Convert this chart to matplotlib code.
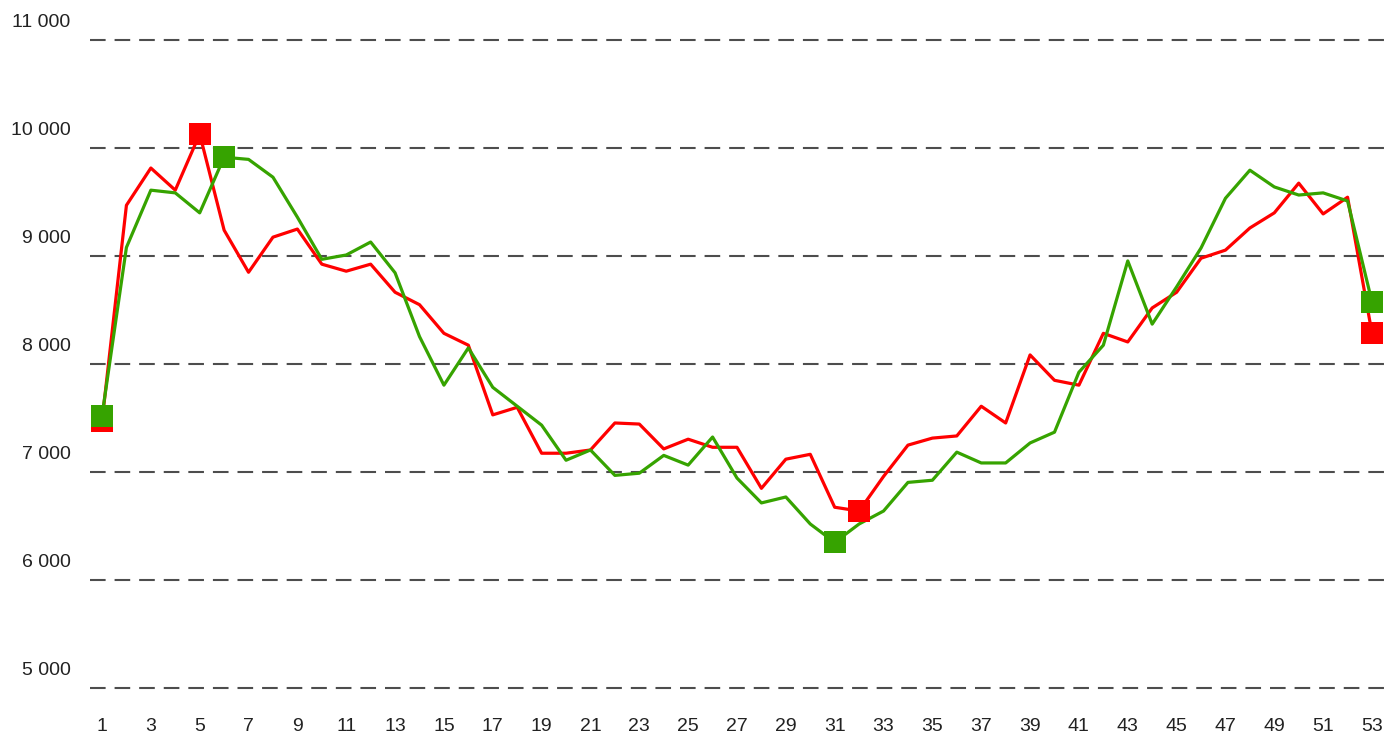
import matplotlib.pyplot as plt
import matplotlib.transforms as mtransforms
from matplotlib import font_manager
import numpy as np

# Week numbers and the two series
weeks = list(range(1, 54))
red_values = [7470, 9470, 9815, 9610, 10130, 9240, 8850, 9175, 9250, 8925,
              8860, 8925, 8665, 8550, 8285, 8175, 7530, 7600, 7175, 7175,
              7205, 7455, 7445, 7215, 7305, 7230, 7230, 6850, 7120, 7165,
              6675, 6640, 6960, 7250, 7315, 7335, 7610, 7455, 8085, 7850,
              7805, 8285, 8205, 8520, 8665, 8980, 9055, 9260, 9400, 9675,
              9390, 9545, 8285]
green_values = [7520, 9080, 9610, 9585, 9400, 9915, 9895, 9730, 9360, 8970,
                9010, 9130, 8845, 8255, 7805, 8150, 7785, 7610, 7435, 7110,
                7205, 6970, 6990, 7155, 7065, 7325, 6945, 6715, 6770, 6520,
                6350, 6520, 6640, 6905, 6925, 7185, 7085, 7085, 7270, 7370,
                7925, 8175, 8955, 8370, 8715, 9075, 9535, 9795, 9640, 9565,
                9585, 9510, 8575]
y_ticks = [5000, 6000, 7000, 8000, 9000, 10000, 11000]
x_ticks = list(range(1, 54, 2))

RED = '#ff0000'
GREEN = '#36a300'

# pick a narrow font if it exists
names = {f.name for f in font_manager.fontManager.ttflist}
family = ['Liberation Sans Narrow', 'DejaVu Sans'] if 'Liberation Sans Narrow' in names else ['Liberation Sans', 'DejaVu Sans']
plt.rcParams['font.family'] = family

fig = plt.figure(figsize=(13.91, 7.42), dpi=100, facecolor='white')
ax = fig.add_axes([90 / 1391, 1 - 699 / 742, 1 - 90 / 1391, (699 - 24) / 742])

for vals, color in [(red_values, RED), (green_values, GREEN)]:
    ax.plot(weeks, vals, color=color, linewidth=2.3, zorder=3)
    v = np.array(vals)
    idx = [0, int(v.argmax()), int(v.argmin()), len(v) - 1]
    ax.plot([weeks[i] for i in idx], [vals[i] for i in idx], 's', color=color,
            markersize=15.2, markeredgewidth=0, zorder=4)

ax.set_xlim(1 - 12 / 24.42, 53 + 19 / 24.42)
ax.set_ylim(4900, 11000 + 16 / 0.108)

# dashed horizontal grid
for y in y_ticks:
    ax.axhline(y, color='#4d4d4d', linewidth=1.5, linestyle=(0, (7.5, 4.3)), zorder=1)

ax.set_yticks(y_ticks)
ax.set_yticklabels([f'{v:,}'.replace(',', ' ') for v in y_ticks])
ax.set_xticks(x_ticks)
ax.set_xticklabels([str(w) for w in x_ticks])
ax.tick_params(axis='both', length=0, labelsize=14, colors='#222222')
ax.tick_params(axis='y', pad=14)
ax.tick_params(axis='x', pad=14)

# y labels sit above their gridline
offset = mtransforms.ScaledTranslation(0, 0.2, fig.dpi_scale_trans)
for lab in ax.get_yticklabels():
    lab.set_transform(lab.get_transform() + offset)

for s in ax.spines.values():
    s.set_visible(False)

fig.savefig('out.png', dpi=100, facecolor='white')
